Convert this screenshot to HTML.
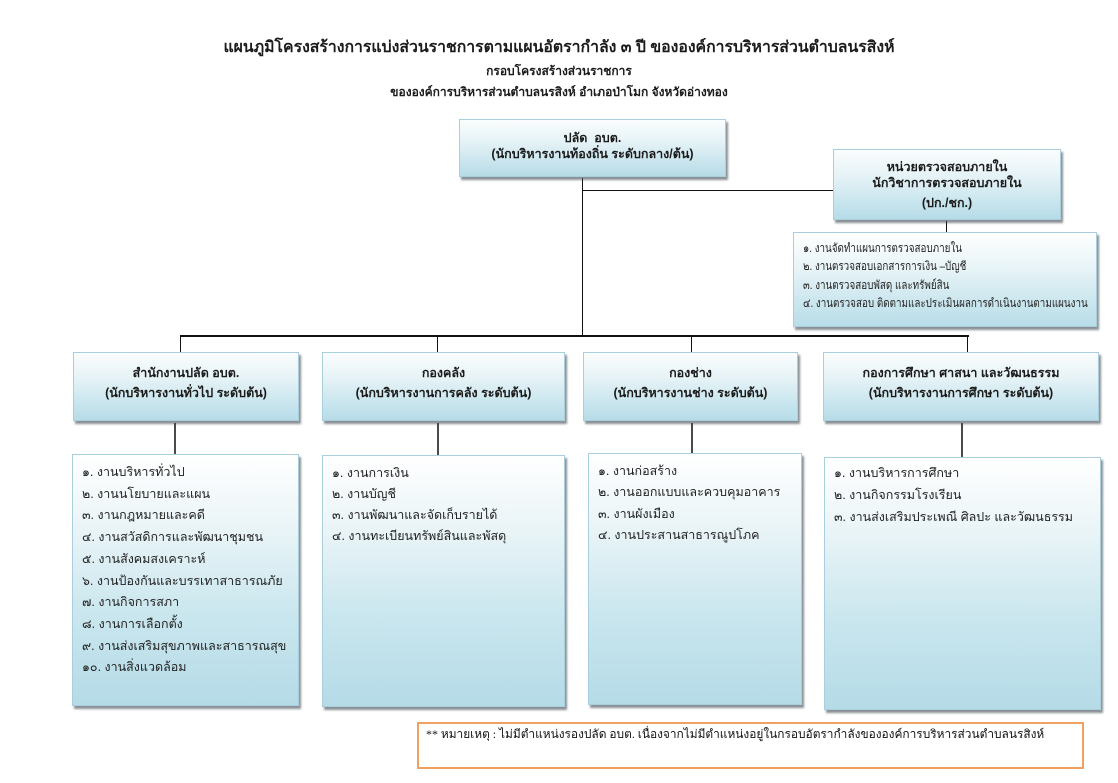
<!DOCTYPE html>
<html>
<head>
<meta charset="utf-8">
<style>
  html,body{margin:0;padding:0;}
  body{width:1118px;height:783px;position:relative;background:#ffffff;overflow:hidden;
       font-family:"Liberation Sans","DejaVu Sans",sans-serif;color:#1b1b1b;}
  .abs{position:absolute;}
  .box{position:absolute;box-sizing:border-box;border:1px solid #a9cfdc;
       background:linear-gradient(to bottom,#fbfdfe 0%,#e4f2f6 40%,#b6dce8 100%);
       box-shadow:2px 3px 2px rgba(60,70,80,0.6);}
  .lbox{position:absolute;box-sizing:border-box;border:1px solid #a9cfdc;
       background:linear-gradient(to bottom,#ffffff 0%,#e9f4f7 30%,#c9e6ee 65%,#b5dbe7 100%);
       box-shadow:2px 3px 2px rgba(60,70,80,0.6);}
  .hl{position:absolute;background:#111;}
  .vg{position:absolute;background:#4a4a4a;width:2px;}
  .ctr{position:absolute;text-align:center;white-space:nowrap;font-weight:bold;font-size:12.5px;line-height:20px;}
  .li{position:absolute;white-space:nowrap;font-size:12.5px;line-height:21.5px;color:#222;}
  .title{position:absolute;left:0;width:1118px;text-align:center;white-space:nowrap;font-weight:bold;}
</style>
</head>
<body>

<!-- Titles -->
<div class="title" style="top:37px;font-size:15.8px;line-height:22px;">แผนภูมิโครงสร้างการแบ่งส่วนราชการตามแผนอัตรากำลัง ๓ ปี ขององค์การบริหารส่วนตำบลนรสิงห์</div>
<div class="title" style="top:62px;font-size:12px;line-height:18px;">กรอบโครงสร้างส่วนราชการ</div>
<div class="title" style="top:83px;font-size:12px;line-height:18px;">ขององค์การบริหารส่วนตำบลนรสิงห์ อำเภอป่าโมก จังหวัดอ่างทอง</div>

<!-- Connectors -->
<div class="hl" style="left:582px;top:178px;width:1px;height:159px;"></div>
<div class="hl" style="left:583px;top:190px;width:250px;height:1px;"></div>
<div class="hl" style="left:946px;top:221px;width:1px;height:11px;"></div>
<div class="hl" style="left:180px;top:335px;width:789px;height:2px;"></div>
<div class="hl" style="left:180px;top:336px;width:1px;height:16px;"></div>
<div class="hl" style="left:437px;top:336px;width:1px;height:16px;"></div>
<div class="hl" style="left:691px;top:336px;width:1px;height:16px;"></div>
<div class="hl" style="left:967px;top:336px;width:1px;height:16px;"></div>

<div class="vg" style="left:174px;top:423px;height:31px;"></div>
<div class="vg" style="left:437px;top:423px;height:32px;"></div>
<div class="vg" style="left:691px;top:423px;height:30px;"></div>
<div class="vg" style="left:961px;top:423px;height:34px;"></div>

<!-- Top box -->
<div class="box" style="left:459px;top:119px;width:267px;height:58px;"></div>
<div class="ctr" style="left:459px;width:267px;top:128px;">ปลัด&nbsp;&nbsp;อบต.</div>
<div class="ctr" style="left:459px;width:267px;top:144px;">(นักบริหารงานท้องถิ่น ระดับกลาง/ต้น)</div>

<!-- Right header box -->
<div class="box" style="left:833px;top:149px;width:228px;height:71px;"></div>
<div class="ctr" style="left:833px;width:228px;top:157px;">หน่วยตรวจสอบภายใน</div>
<div class="ctr" style="left:833px;width:228px;top:173px;">นักวิชาการตรวจสอบภายใน</div>
<div class="ctr" style="left:833px;width:228px;top:193px;">(ปก./ชก.)</div>

<!-- Right list box -->
<div class="lbox" style="left:793px;top:232px;width:304px;height:95px;background:linear-gradient(to bottom,#ffffff 0%,#e6f3f7 40%,#b8dde8 100%);"></div>
<div class="li" style="left:803px;top:239px;font-size:12px;line-height:18.4px;transform:scaleX(0.82);transform-origin:0 0;">
๑. งานจัดทำแผนการตรวจสอบภายใน<br>
๒. งานตรวจสอบเอกสารการเงิน –บัญชี<br>
๓. งานตรวจสอบพัสดุ และทรัพย์สิน<br>
๔. งานตรวจสอบ ติดตามและประเมินผลการดำเนินงานตามแผนงาน
</div>

<!-- Header boxes -->
<div class="box" style="left:73px;top:352px;width:226px;height:69px;"></div>
<div class="ctr" style="left:73px;width:226px;top:363px;">สำนักงานปลัด อบต.</div>
<div class="ctr" style="left:73px;width:226px;top:383px;">(นักบริหารงานทั่วไป ระดับต้น)</div>

<div class="box" style="left:322px;top:352px;width:243px;height:69px;"></div>
<div class="ctr" style="left:322px;width:243px;top:363px;">กองคลัง</div>
<div class="ctr" style="left:322px;width:243px;top:383px;">(นักบริหารงานการคลัง ระดับต้น)</div>

<div class="box" style="left:583px;top:352px;width:215px;height:69px;"></div>
<div class="ctr" style="left:583px;width:215px;top:363px;">กองช่าง</div>
<div class="ctr" style="left:583px;width:215px;top:383px;">(นักบริหารงานช่าง ระดับต้น)</div>

<div class="box" style="left:823px;top:352px;width:276px;height:69px;"></div>
<div class="ctr" style="left:823px;width:276px;top:363px;">กองการศึกษา ศาสนา และวัฒนธรรม</div>
<div class="ctr" style="left:823px;width:276px;top:383px;">(นักบริหารงานการศึกษา ระดับต้น)</div>

<!-- List boxes -->
<div class="lbox" style="left:72px;top:454px;width:227px;height:252px;"></div>
<div class="li" style="left:82px;top:462px;line-height:21.7px;">
๑. งานบริหารทั่วไป<br>
๒. งานนโยบายและแผน<br>
๓. งานกฎหมายและคดี<br>
๔. งานสวัสดิการและพัฒนาชุมชน<br>
๕. งานสังคมสงเคราะห์<br>
๖. งานป้องกันและบรรเทาสาธารณภัย<br>
๗. งานกิจการสภา<br>
๘. งานการเลือกตั้ง<br>
๙. งานส่งเสริมสุขภาพและสาธารณสุข<br>
๑๐. งานสิ่งแวดล้อม
</div>

<div class="lbox" style="left:322px;top:455px;width:243px;height:252px;"></div>
<div class="li" style="left:332px;top:463px;line-height:21px;">
๑. งานการเงิน<br>
๒. งานบัญชี<br>
๓. งานพัฒนาและจัดเก็บรายได้<br>
๔. งานทะเบียนทรัพย์สินและพัสดุ
</div>

<div class="lbox" style="left:588px;top:453px;width:214px;height:252px;"></div>
<div class="li" style="left:598px;top:461px;line-height:21.3px;">
๑. งานก่อสร้าง<br>
๒. งานออกแบบและควบคุมอาคาร<br>
๓. งานผังเมือง<br>
๔. งานประสานสาธารณูปโภค
</div>

<div class="lbox" style="left:824px;top:457px;width:277px;height:253px;"></div>
<div class="li" style="left:834px;top:462px;line-height:22px;">
๑. งานบริหารการศึกษา<br>
๒. งานกิจกรรมโรงเรียน<br>
๓. งานส่งเสริมประเพณี ศิลปะ และวัฒนธรรม
</div>

<!-- Note box -->
<div class="abs" style="left:417px;top:722px;width:667px;height:47px;box-sizing:border-box;border:2px solid #f0a060;background:#ffffff;"></div>
<div class="abs" style="left:426px;top:725px;white-space:nowrap;font-family:'Liberation Serif','DejaVu Serif',serif;font-size:11.9px;line-height:18px;color:#111;">** หมายเหตุ : ไม่มีตำแหน่งรองปลัด อบต. เนื่องจากไม่มีตำแหน่งอยู่ในกรอบอัตรากำลังขององค์การบริหารส่วนตำบลนรสิงห์</div>

</body>
</html>
